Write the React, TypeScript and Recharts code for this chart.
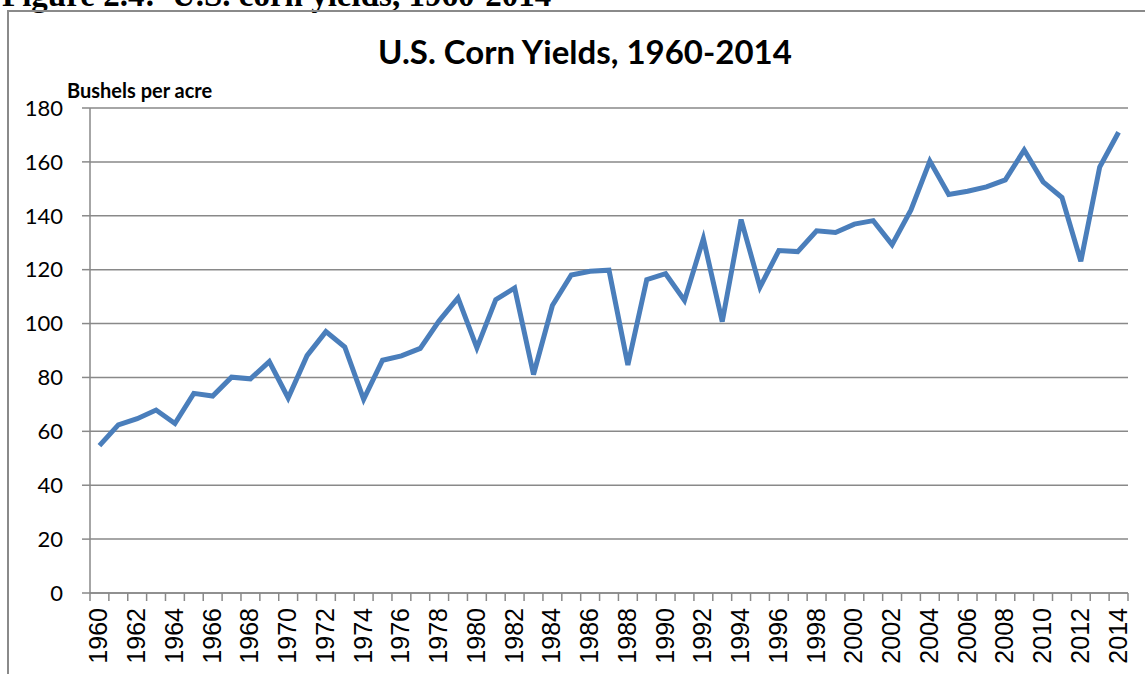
import { LineChart, Line, XAxis, YAxis, CartesianGrid } from 'recharts';

// U.S. corn yields, bushels per acre
const years = [
  1960, 1961, 1962, 1963, 1964, 1965, 1966, 1967, 1968, 1969,
  1970, 1971, 1972, 1973, 1974, 1975, 1976, 1977, 1978, 1979,
  1980, 1981, 1982, 1983, 1984, 1985, 1986, 1987, 1988, 1989,
  1990, 1991, 1992, 1993, 1994, 1995, 1996, 1997, 1998, 1999,
  2000, 2001, 2002, 2003, 2004, 2005, 2006, 2007, 2008, 2009,
  2010, 2011, 2012, 2013, 2014,
];
const yields = [
  54.7, 62.4, 64.7, 67.9, 62.9, 74.1, 73.1, 80.1, 79.5, 85.9,
  72.4, 88.1, 97.0, 91.3, 71.9, 86.4, 88.0, 90.8, 101.0, 109.5,
  91.0, 108.9, 113.2, 81.1, 106.7, 118.0, 119.4, 119.8, 84.6, 116.3,
  118.5, 108.6, 131.5, 100.7, 138.6, 113.5, 127.1, 126.7, 134.4, 133.8,
  136.9, 138.2, 129.3, 142.2, 160.3, 147.9, 149.1, 150.7, 153.3, 164.4,
  152.6, 146.8, 123.1, 158.1, 171.0,
];
const yTicks = [0, 20, 40, 60, 80, 100, 120, 140, 160, 180];
// year labels every two years; tick marks sit between the categories
const labelYears = years.filter((y) => y % 2 === 0);
const tickMarks = [...years.map((y) => y - 0.5), years[years.length - 1] + 0.5];

const data = years.map((year, i) => ({ year, yield: yields[i] }));

const GRAY = '#898989';

// draws short tick marks at half-years and rotated labels at even years
const YearTick = ({ x, y, payload }: any) => {
  const v = payload.value as number;
  if (v % 1 !== 0) {
    return <line x1={x} y1={y} x2={x} y2={y + 8} stroke={GRAY} strokeWidth={1.5} />;
  }
  return (
    <text
      transform={`translate(${x + 8},${y + 15}) rotate(-90)`}
      textAnchor="end"
      fontFamily="'Liberation Sans', Arial, sans-serif"
      fontSize={25}
      fill="#000"
    >
      {v}
    </text>
  );
};

export default function App() {
  return (
    <div
      style={{
        position: 'fixed',
        left: 0,
        top: 0,
        width: 1145,
        height: 674,
        overflow: 'hidden',
        background: '#fff',
      }}
    >
      <div
        style={{
          position: 'absolute',
          left: 2,
          top: -17,
          fontFamily: "'Liberation Serif', 'Times New Roman', serif",
          fontWeight: 'bold',
          fontSize: 33,
          lineHeight: '24px',
          whiteSpace: 'nowrap',
        }}
      >
        Figure 2.4:&nbsp; U.S. corn yields, 1960-2014
      </div>
      <div
        style={{
          position: 'absolute',
          left: 7,
          top: 10,
          width: 1160,
          height: 700,
          border: '2px solid #8a8a8a',
          boxSizing: 'border-box',
        }}
      />
      <div
        style={{
          position: 'absolute',
          left: 0,
          top: 31,
          width: 1145,
          textAlign: 'center',
          paddingLeft: 25,
          boxSizing: 'border-box',
          fontFamily: 'Lato, sans-serif',
          fontWeight: 'bold',
          fontSize: 33,
        }}
      >
        U.S. Corn Yields, 1960-2014
      </div>
      <div
        style={{
          position: 'absolute',
          left: 67,
          top: 78,
          fontFamily: 'Lato, sans-serif',
          fontWeight: 'bold',
          fontSize: 20,
          lineHeight: '24px',
        }}
      >
        Bushels per acre
      </div>
      <div style={{ position: 'absolute', left: 0, top: 0 }}>
        <LineChart
          width={1145}
          height={674}
          data={data}
          margin={{ top: 108, right: 17, bottom: 0, left: 0 }}
        >
          <CartesianGrid horizontal vertical={false} stroke={GRAY} strokeWidth={1.5} />
          <XAxis
            dataKey="year"
            type="number"
            domain={[1959.5, 2014.5]}
            ticks={[...tickMarks, ...labelYears].sort((a, b) => a - b)}
            interval={0}
            tick={<YearTick />}
            tickLine={false}
            tickSize={0}
            tickMargin={0}
            axisLine={{ stroke: GRAY, strokeWidth: 1.5 }}
            height={81}
            allowDataOverflow
          />
          <YAxis
            domain={[0, 180]}
            ticks={yTicks}
            interval={0}
            width={90}
            tickSize={8}
            tickMargin={19}
            tickLine={{ stroke: GRAY, strokeWidth: 1.5 }}
            axisLine={{ stroke: GRAY, strokeWidth: 1.5 }}
            tick={{ fill: '#000', fontSize: 22, fontFamily: 'Lato, sans-serif' }}
          />
          <Line
            type="linear"
            dataKey="yield"
            stroke="#4a7ebb"
            strokeWidth={5}
            dot={false}
            isAnimationActive={false}
          />
        </LineChart>
      </div>
    </div>
  );
}
